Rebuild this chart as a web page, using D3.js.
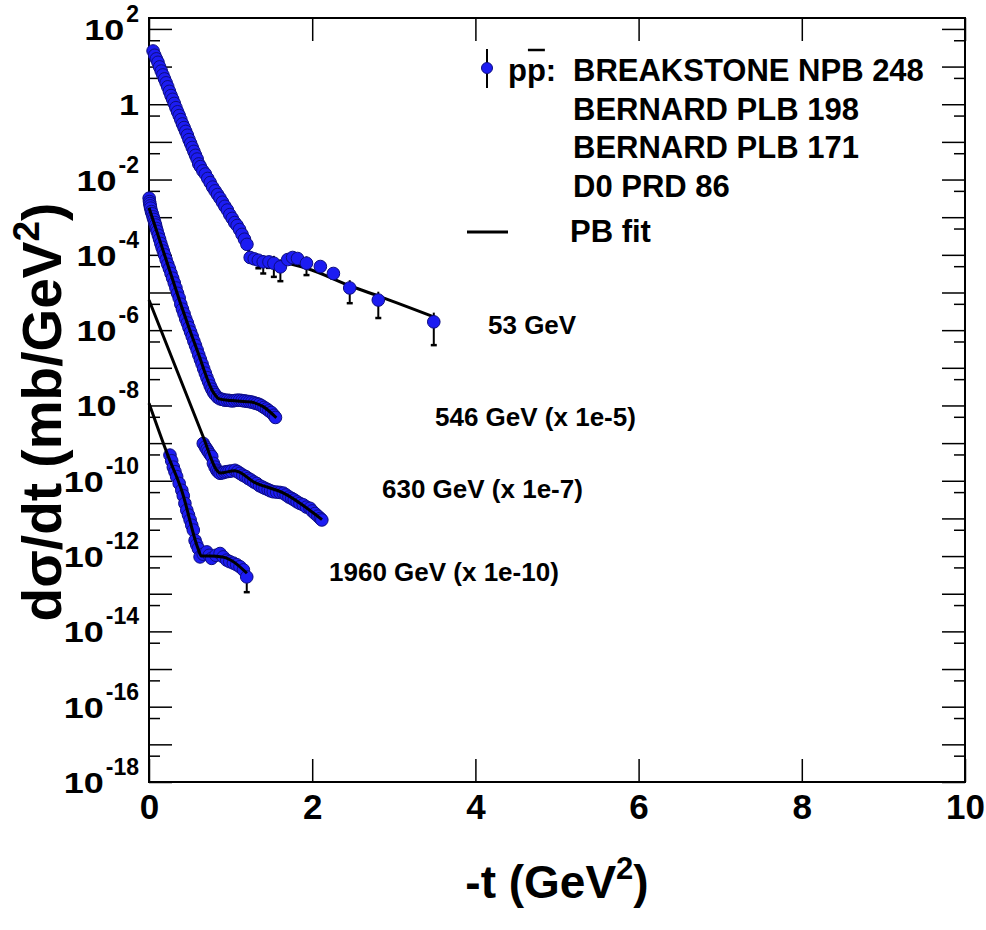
<!DOCTYPE html>
<html>
<head>
<meta charset="utf-8">
<script src="https://cdn.jsdelivr.net/npm/d3@7/dist/d3.min.js"></script>
<style>
  body { margin: 0; background: #fff; }
  svg text { font-family: "Liberation Sans", Arial, Helvetica, sans-serif; font-weight: bold; fill: #000; }
</style>
</head>
<body>
<svg id="chart" width="986" height="930"></svg>
<script>
// ---- data: -t in GeV^2, dsigma/dt in mb/GeV^2 (already multiplied by the factor in each label) ----

// 53 GeV (Breakstone NPB 248)
const t53 = [0.05,0.07,0.09,0.11,0.13,0.15,0.17,0.19,0.21,0.23,0.25,0.27,0.29,0.31,0.33,0.35,0.37,0.39,0.41,0.43,
             0.45,0.47,0.49,0.51,0.53,0.55,0.57,0.59,0.61,0.63,0.66,0.69,0.72,0.75,0.78,0.81,0.84,0.87,0.90,0.93,
             0.96,0.99,1.02,1.05,1.08,1.11,1.14,1.17,1.20,
             1.24,1.29,1.34,1.40,1.47,1.53,1.61,1.70,1.76,1.82,1.93,2.10,2.26,2.46,2.81,3.49];
const v53 = [26,20,16,13,9.8,7.6,6.0,4.7,3.7,2.9,2.2,1.7,1.35,1.05,0.81,0.63,0.50,0.39,0.30,0.24,
             0.19,0.15,0.115,0.091,0.071,0.056,0.044,0.035,0.026,0.022,0.017,0.014,0.0107,0.0083,0.0063,0.0050,0.0040,0.0032,0.0025,0.00195,
             0.00155,0.00117,0.00093,0.00072,0.0006,0.00047,0.00035,0.00026,0.00019,
             8.5e-5,7.8e-5,7.2e-5,6.5e-5,6.5e-5,6.0e-5,4.8e-5,7.5e-5,8.5e-5,8.0e-5,6.0e-5,4.9e-5,3.2e-5,1.32e-5,6.3e-6,1.66e-6];
const e53 = [0,0,0,0,0,0,0,0,0,0,0,0,0,0,0,0,0,0,0,0,
             0,0,0,0,0,0,0,0,0,0,0,0,0,0,0,0,0,0,0,0,
             0,0,0,0,0,0,0,0,0,
             1e-5,2e-5,2.8e-5,3.3e-5,2e-5,3.4e-5,2.8e-5,1e-5,1e-5,1e-5,3.1e-5,1e-5,8e-6,8e-6,4.2e-6,1.26e-6];

// 546 GeV (Bernard PLB 198), x 1e-5
const t546 = [0.002,0.006,0.010,0.015,0.02,0.03,0.04,0.05,0.06,0.07,0.08,0.09,0.10,0.115,0.13,0.145,0.16,0.175,0.19,
              0.21,0.23,0.25,0.27,0.29,0.31,0.33,0.35,0.37,0.39,0.41,0.43,0.45,0.47,0.49,0.51,0.53,0.55,0.57,0.59,
              0.61,0.63,0.65,0.67,0.69,0.71,0.73,0.75,0.77,0.79,0.81,
              0.84,0.87,0.90,0.93,0.96,0.99,1.02,1.05,1.08,1.11,1.14,1.17,1.20,1.23,1.26,1.29,1.32,1.35,1.38,1.41,
              1.44,1.47,1.50,1.53,1.55];
const v546 = [3.2e-3,2.6e-3,2.3e-3,2.0e-3,1.74e-3,1.41e-3,1.23e-3,1.02e-3,8.7e-4,7.2e-4,6.2e-4,5.0e-4,4.2e-4,3.3e-4,2.6e-4,2.0e-4,1.58e-4,1.26e-4,1.0e-4,
              7.4e-5,5.6e-5,4.3e-5,3.2e-5,2.4e-5,1.78e-5,1.32e-5,9.5e-6,7.1e-6,4.9e-6,3.6e-6,2.7e-6,2.0e-6,1.55e-6,1.17e-6,8.9e-7,6.8e-7,5.1e-7,3.9e-7,2.95e-7,
              2.2e-7,1.66e-7,1.26e-7,9.5e-8,7.2e-8,5.5e-8,4.3e-8,3.3e-8,2.7e-8,2.24e-8,1.95e-8,
              1.66e-8,1.5e-8,1.45e-8,1.38e-8,1.38e-8,1.35e-8,1.32e-8,1.35e-8,1.38e-8,1.38e-8,1.35e-8,1.32e-8,1.29e-8,1.26e-8,1.23e-8,1.17e-8,1.12e-8,1.07e-8,9.8e-9,8.9e-9,
              8.1e-9,7.2e-9,6.5e-9,5.5e-9,4.8e-9];

// 630 GeV (Bernard PLB 171), x 1e-7
const t630 = [0.665,0.69,0.71,0.727,0.75,0.769,0.789,0.81,0.831,0.85,0.871,0.90,0.925,0.953,0.98,1.01,1.054,1.085,1.115,1.15,
              1.185,1.218,1.25,1.285,1.32,1.355,1.39,1.422,1.46,1.49,1.523,1.565,1.605,1.646,1.68,1.715,1.749,1.78,1.815,1.85,
              1.89,1.93,1.973,2.00,2.034,2.07,2.10,2.118];
const v630 = [9.8e-10,7.9e-10,6.8e-10,5.9e-10,5.0e-10,4.4e-10,2.9e-10,2.3e-10,1.9e-10,1.7e-10,1.58e-10,1.62e-10,1.7e-10,1.74e-10,1.78e-10,1.82e-10,1.9e-10,1.74e-10,1.58e-10,1.41e-10,
              1.29e-10,1.15e-10,1.05e-10,9.3e-11,8.5e-11,7.4e-11,6.8e-11,6.3e-11,5.8e-11,5.4e-11,5.1e-11,5.0e-11,4.9e-11,4.7e-11,4.2e-11,3.7e-11,3.4e-11,3.1e-11,2.75e-11,2.5e-11,
              2.3e-11,2.0e-11,1.86e-11,1.58e-11,1.35e-11,1.15e-11,1.0e-11,9.1e-12];

// 1960 GeV (D0 PRD 86), x 1e-10
const t1960 = [0.257,0.278,0.298,0.318,0.339,0.37,0.402,0.42,0.44,0.463,0.484,0.504,0.524,0.543,0.565,0.585,0.605,0.626,0.665,0.708,
               0.738,0.768,0.82,0.871,0.91,0.953,0.99,1.034,1.075,1.115,1.157,1.198];
const v1960 = [4.8e-10,3.4e-10,2.3e-10,1.74e-10,1.29e-10,8.5e-11,5.6e-11,4.0e-11,2.5e-11,1.66e-11,1.23e-11,9.1e-12,6.6e-12,4.9e-12,2.6e-12,2.0e-12,1.58e-12,9.5e-13,1.12e-12,1.29e-12,
               1.05e-12,8.7e-13,1.05e-12,1.17e-12,9.5e-13,7.8e-13,7.1e-13,6.5e-13,5.9e-13,5.2e-13,4.3e-13,2.8e-13];
const e1960 = [0,0,0,0,0,0,0,0,0,0,0,0,0,0,0,0,0,0,0,0,
               0,0,0,0,0,0,0,0,0,0,0,1.7e-13];

// PB fit curves
const fit53T = [0,0.053,0.2,0.34,0.48,0.62,0.77,0.91,1.05,1.15,1.20,1.24,1.30,1.52,1.93,2.50,2.83,3.49];
const fit53V = [31,25,4.2,0.72,0.13,0.024,0.0069,0.0023,7.2e-4,3.2e-4,1.9e-4,1.0e-4,8.6e-5,7.2e-5,4.4e-5,1.4e-5,7.8e-6,2.26e-6];
const fit546T = [0,0.2,0.4,0.6,0.79,0.86,1.0,1.25,1.4,1.56];
const fit546V = [1.78e-3,8.6e-5,4.2e-6,2.55e-7,2.2e-8,1.5e-8,1.35e-8,1.23e-8,9.3e-9,4.7e-9];
const fit630T = [0,0.665,0.83,0.87,1.05,1.3,1.65,2.12];
const fit630V = [6.3e-6,1.45e-9,1.9e-10,1.6e-10,1.85e-10,8.9e-11,4.7e-11,9.3e-12];
const fit1960T = [0,0.23,0.4,0.6,0.64,0.75,0.9,1.2];
const fit1960V = [1.15e-8,4.8e-10,5.6e-11,1.6e-12,1.0e-12,1.0e-12,9.5e-13,3.5e-13];

// axis ticks and labels
const xTicks = [0,2,4,6,8,10];
const yDecadeExps = [2,1,0,-1,-2,-3,-4,-5,-6,-7,-8,-9,-10,-11,-12,-13,-14,-15,-16,-17,-18];
const yLabelExps = [2,0,-2,-4,-6,-8,-10,-12,-14,-16,-18];

// series labels and legend entries
const seriesLabels = ["53 GeV", "546 GeV (x 1e-5)", "630 GeV (x 1e-7)", "1960 GeV (x 1e-10)"];
const legendRefs = ["BREAKSTONE NPB 248", "BERNARD PLB 198", "BERNARD PLB 171", "D0 PRD 86"];
const fitLabel = "PB fit";

// ---- drawing ----
const svg = d3.select("#chart");
const L = 149, R = 965, T = 18, B = 782;
const xS = d3.scaleLinear().domain([0, 10]).range([L, R]);
const yS = d3.scaleLog().domain([1e-18, 1.95e2]).range([B, T]);

const BLUE = "#1c1cf2", NAVY = "#0d0d80";

svg.append("rect").attr("width", 986).attr("height", 930).attr("fill", "#fff");

// ticks
const decadeVals = yDecadeExps.map(k => Math.pow(10, k));
const halfVals = yDecadeExps.slice(0, -1).map(k => 5 * Math.pow(10, k - 1));

function styleAxis(g) {
  g.select(".domain").remove();
  g.selectAll(".tick line").attr("stroke", "#000").attr("stroke-width", 1.5);
}
svg.append("g").attr("transform", `translate(0,${B})`)
  .call(d3.axisBottom(xS).tickValues(xTicks).tickSizeInner(-23).tickSizeOuter(0).tickPadding(12).tickFormat(d3.format("d")))
  .call(styleAxis)
  .attr("font-size", 35);
svg.append("g").attr("transform", `translate(0,${T})`)
  .call(d3.axisTop(xS).tickValues(xTicks).tickSizeInner(-23).tickSizeOuter(0).tickFormat(""))
  .call(styleAxis);
svg.append("g").attr("transform", `translate(${L},0)`)
  .call(d3.axisLeft(yS).tickValues(decadeVals).tickSizeInner(-23).tickSizeOuter(0).tickFormat(""))
  .call(styleAxis);
svg.append("g").attr("transform", `translate(${L},0)`)
  .call(d3.axisLeft(yS).tickValues(halfVals).tickSizeInner(-11).tickSizeOuter(0).tickFormat(""))
  .call(styleAxis);
svg.append("g").attr("transform", `translate(${R},0)`)
  .call(d3.axisRight(yS).tickValues(decadeVals).tickSizeInner(-23).tickSizeOuter(0).tickFormat(""))
  .call(styleAxis);
svg.append("g").attr("transform", `translate(${R},0)`)
  .call(d3.axisRight(yS).tickValues(halfVals).tickSizeInner(-11).tickSizeOuter(0).tickFormat(""))
  .call(styleAxis);

// y tick labels: a wide "10" base followed by a superscript exponent
const labelRight = 139;
yLabelExps.forEach(k => {
  const yy = yS(Math.pow(10, k));
  let baseRight = labelRight;
  if (k !== 0) {
    const sup = svg.append("text").attr("x", labelRight).attr("y", yy - 7)
      .attr("text-anchor", "end").attr("font-size", 23).text(String(k));
    baseRight = labelRight - sup.node().getComputedTextLength() - 2;
  }
  svg.append("g").attr("transform", `translate(${baseRight},${yy + 11}) scale(1.2,1)`)
    .append("text").attr("text-anchor", "end").attr("font-size", 30)
    .text(k === 0 ? "1" : "10");
});

// frame
svg.append("rect").attr("x", L).attr("y", T).attr("width", R - L).attr("height", B - T)
  .attr("fill", "none").attr("stroke", "#000").attr("stroke-width", 2);

// axis titles
const yt = svg.append("text").attr("transform", `translate(61,412) rotate(-90)`)
  .attr("text-anchor", "middle").attr("font-size", 55);
yt.append("tspan").text("d\u03c3/dt (mb/GeV");
yt.append("tspan").attr("dy", -22).attr("font-size", 37).text("2");
yt.append("tspan").attr("dy", 22).text(")");

const xt = svg.append("text").attr("x", 557).attr("y", 898)
  .attr("text-anchor", "middle").attr("font-size", 46);
xt.append("tspan").text("-t (GeV");
xt.append("tspan").attr("dy", -19).attr("font-size", 31).text("2");
xt.append("tspan").attr("dy", 19).text(")");

// curves and points
const line = d3.line().x(d => xS(d[0])).y(d => yS(d[1])).curve(d3.curveMonotoneX);
const zipPts = (ts, vs) => ts.map((t, i) => [t, vs[i]]);

function drawFit(ts, vs) {
  svg.append("path").attr("d", line(zipPts(ts, vs)))
    .attr("fill", "none").attr("stroke", "#000").attr("stroke-width", 3).attr("stroke-linejoin", "round");
}

function drawPoints(ts, vs, es) {
  const g = svg.append("g");
  if (es) {
    ts.forEach((t, i) => {
      const e = es[i];
      if (!e) return;
      const cx = xS(t);
      const lo = yS(Math.max(vs[i] - e, 1e-19)), hi = yS(vs[i] + e);
      g.append("line").attr("x1", cx).attr("x2", cx).attr("y1", hi).attr("y2", lo)
        .attr("stroke", "#000").attr("stroke-width", 2);
      g.append("line").attr("x1", cx - 3).attr("x2", cx + 3).attr("y1", lo).attr("y2", lo)
        .attr("stroke", "#000").attr("stroke-width", 2.5);
    });
  }
  g.selectAll("circle").data(zipPts(ts, vs)).join("circle")
    .attr("cx", d => xS(d[0])).attr("cy", d => yS(d[1])).attr("r", 6.3)
    .attr("fill", BLUE).attr("stroke", NAVY).attr("stroke-width", 1);
}

drawFit(fit53T, fit53V);
drawPoints(t53, v53, e53);
drawPoints(t546, v546, null);
drawFit(fit546T, fit546V);
drawPoints(t630, v630, null);
drawFit(fit630T, fit630V);
drawPoints(t1960, v1960, e1960);
drawFit(fit1960T, fit1960V);

// series labels
const labelPos = [[488, 334], [435, 426], [382, 498], [329, 581]];
seriesLabels.forEach((s, i) => {
  svg.append("text").attr("x", labelPos[i][0]).attr("y", labelPos[i][1]).attr("font-size", 26).text(s);
});

// legend
const lg = svg.append("g");
lg.append("line").attr("x1", 487).attr("x2", 487).attr("y1", 49).attr("y2", 88)
  .attr("stroke", "#000").attr("stroke-width", 2);
lg.append("circle").attr("cx", 487).attr("cy", 68).attr("r", 5.5).attr("fill", BLUE).attr("stroke", NAVY);
const ppText = lg.append("text").attr("x", 508).attr("y", 81).attr("font-size", 31).text("pp:");
const pNode = ppText.node();
const p2x = pNode.getStartPositionOfChar(1).x, p2w = pNode.getSubStringLength(1, 1);
lg.append("line").attr("x1", p2x + 1).attr("x2", p2x + p2w - 1).attr("y1", 50).attr("y2", 50)
  .attr("stroke", "#000").attr("stroke-width", 2.5);
legendRefs.forEach((s, i) => {
  lg.append("text").attr("x", 573).attr("y", 81 + i * 38.5).attr("font-size", 31).text(s);
});
lg.append("line").attr("x1", 467).attr("x2", 508).attr("y1", 232).attr("y2", 232)
  .attr("stroke", "#000").attr("stroke-width", 3);
lg.append("text").attr("x", 570).attr("y", 242).attr("font-size", 31).text(fitLabel);
</script>
</body>
</html>
